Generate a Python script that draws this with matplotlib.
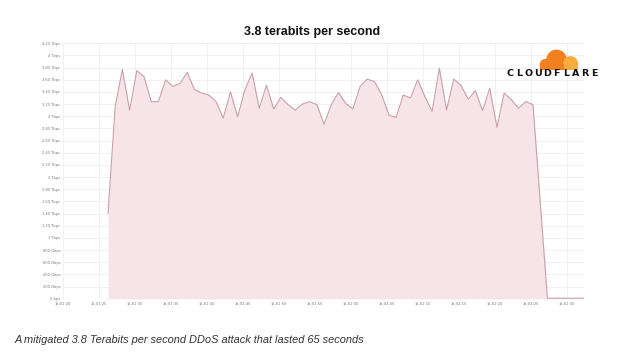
import matplotlib
matplotlib.use("Agg")
import matplotlib.pyplot as plt
from matplotlib.patches import Circle, Rectangle

# seconds since 15:01:20, one sample per second
start = 6.25
attack = [1.41, 3.16, 3.77, 3.10, 3.75, 3.65, 3.24, 3.24, 3.60, 3.49,
          3.54, 3.72, 3.44, 3.38, 3.35, 3.24, 2.97, 3.40, 2.99, 3.43,
          3.71, 3.13, 3.51, 3.12, 3.31, 3.19, 3.10, 3.20, 3.24, 3.19,
          2.87, 3.19, 3.39, 3.21, 3.12, 3.49, 3.61, 3.57, 3.35, 3.02,
          2.98, 3.35, 3.30, 3.60, 3.32, 3.08, 3.79, 3.10, 3.61, 3.51,
          3.28, 3.42, 3.09, 3.46, 2.82, 3.38, 3.27, 3.13, 3.24, 3.19]
tail_t = [67.25, 68.25, 69.25, 70.25, 71.25, 72.25]
tail = [0.01, 0.01, 0.01, 0.01, 0.01, 0.01]

t = [start + i for i in range(len(attack))] + tail_t
v = attack + tail

xticks = [5 * k for k in range(15)]
xlabels = ["15:01:%02d" % (20 + s) if 20 + s < 60 else "15:02:%02d" % (20 + s - 60)
           for s in xticks]
yticks = [round(0.2 * k, 1) for k in range(22)]
ylabels = ["0 bps", "200 Gbps", "400 Gbps", "600 Gbps", "800 Gbps", "1 Tbps",
           "1.20 Tbps", "1.40 Tbps", "1.60 Tbps", "1.80 Tbps", "2 Tbps",
           "2.20 Tbps", "2.40 Tbps", "2.60 Tbps", "2.80 Tbps", "3 Tbps",
           "3.20 Tbps", "3.40 Tbps", "3.60 Tbps", "3.80 Tbps", "4 Tbps", "4.20 Tbps"]

fig = plt.figure(figsize=(6.4, 3.6), dpi=100)
ax = fig.add_axes([0.0984, 0.170, 0.816, 0.710])

ax.fill_between(t, v, 0, color="#f6e4e8", lw=0)
ax.plot(t, v, color="#c9a0a9", lw=0.8)

ax.set_xlim(0, 72.5)
ax.set_ylim(0, 4.2)
ax.set_xticks(xticks)
ax.set_xticklabels(xlabels)
ax.set_yticks(yticks)
ax.set_yticklabels(ylabels)
ax.tick_params(labelsize=2.6, colors="#777777", length=0, pad=2)
ax.grid(True, color="#ececec", lw=0.5)
ax.set_axisbelow(True)
for s in ax.spines.values():
    s.set_visible(False)

fig.text(0.488, 0.91, "3.8 terabits per second", ha="center", va="center",
         fontsize=9, fontweight="bold", family="Liberation Sans", color="#111111")
fig.text(0.022, 0.055, "A mitigated 3.8 Terabits per second DDoS attack that lasted 65 seconds",
         ha="left", va="center", fontsize=7.9, style="italic",
         family="Liberation Sans", color="#333333")

# Cloudflare logo
lax = fig.add_axes([0.835, 0.805, 0.075, 0.065])
lax.set_xlim(0, 10)
lax.set_ylim(0, 5)
lax.set_aspect("equal")
lax.axis("off")
lax.add_patch(Circle((4.6, 2.2), 2.2, color="#f38020", lw=0))
lax.add_patch(Circle((2.2, 1.2), 1.2, color="#f38020", lw=0))
lax.add_patch(Circle((7.6, 1.4), 1.6, color="#faad3f", lw=0))
lax.add_patch(Rectangle((1.0, 0.0), 5.5, 1.3, color="#f38020", lw=0))
lax.add_patch(Rectangle((6.2, 0.0), 3.0, 1.3, color="#faad3f", lw=0))
for i, ch in enumerate("CLOUDFLARE"):
    fig.text(0.797 + i * 0.0146, 0.797, ch, ha="center", va="center",
             fontsize=6.8, fontweight="bold", color="#111111")

fig.savefig("out.png", dpi=100)
